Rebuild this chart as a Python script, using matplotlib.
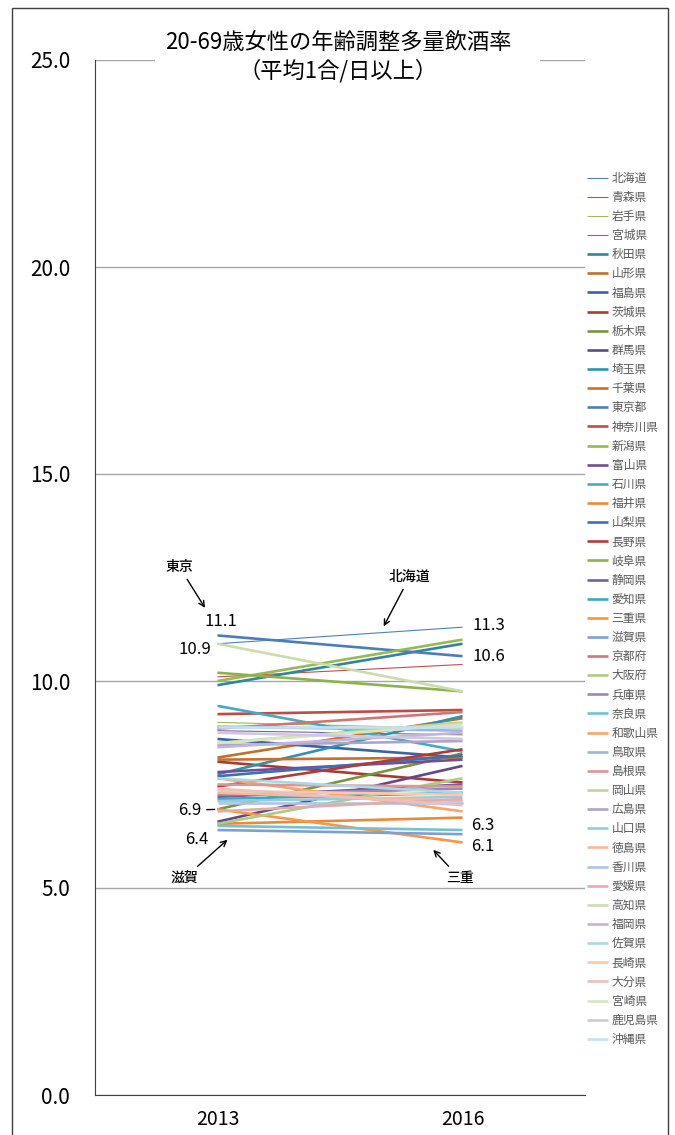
import matplotlib
matplotlib.use("Agg")
import matplotlib.pyplot as plt
from matplotlib.patches import Rectangle

plt.rcParams["font.family"] = ["Noto Sans CJK JP", "DejaVu Sans"]

# --- data ---
years = ["2013", "2016"]

prefs = [
    "北海道", "青森県", "岩手県", "宮城県", "秋田県", "山形県",
    "福島県", "茨城県", "栃木県", "群馬県", "埼玉県", "千葉県",
    "東京都", "神奈川県", "新潟県", "富山県", "石川県", "福井県",
    "山梨県", "長野県", "岐阜県", "静岡県", "愛知県", "三重県",
    "滋賀県", "京都府", "大阪府", "兵庫県", "奈良県", "和歌山県",
    "鳥取県", "島根県", "岡山県", "広島県", "山口県", "徳島県",
    "香川県", "愛媛県", "高知県", "福岡県", "佐賀県", "長崎県",
    "熊本県", "大分県", "宮崎県", "鹿児島県", "沖縄県",
]

# 熊本県 has no value (not in the chart's legend either)
v2013 = [
    10.9, 10.1, 9.0, 8.8, 9.9, 8.15,
    8.6, 8.05, 6.9, 6.6, 7.75, 8.1,
    11.1, 9.2, 10.0, 7.8, 9.4, 6.55,
    7.7, 7.45, 10.2, 7.2, 7.15, 6.9,
    6.4, 8.85, 6.55, 7.25, 6.5, 7.65,
    8.9, 7.5, 8.5, 8.45, 7.1, 7.3,
    7.05, 6.85, 10.9, 8.4, 7.65, 7.35,
    None, 7.4, 8.5, 8.75, 8.9,
]

v2016 = [
    11.3, 10.4, 8.85, 8.7, 10.9, 9.1,
    8.15, 7.55, 8.25, 7.95, 9.15, 8.15,
    10.6, 9.3, 11.0, 8.1, 8.3, 6.7,
    8.2, 8.35, 9.75, 7.5, 7.3, 6.1,
    6.3, 9.25, 7.65, 7.4, 6.4, 6.85,
    8.8, 7.45, 9.0, 8.55, 7.2, 7.1,
    7.05, 7.15, 9.75, 8.75, 7.3, 7.25,
    None, 7.0, 8.95, 8.6, 8.9,
]

colors = [
    "#4F81BD", "#C0504D", "#9BBB59", "#8064A2", "#31859C", "#C0702F",
    "#3B64A0", "#A83A37", "#77963C", "#5F4A85", "#2E94AE", "#C8702A",
    "#4A7EBB", "#BE4B48", "#98B954", "#6E4E9A", "#46AAC5", "#E88A3C",
    "#3F6FB0", "#B03C3A", "#8DB14B", "#7A5CA0", "#3FA6C2", "#F79646",
    "#7EA0D0", "#D07775", "#AFCB80", "#9C87BC", "#74C0D5", "#F9A56A",
    "#9CB5DB", "#DA9795", "#BFD49A", "#B0A2CB", "#93CDDD", "#FAB994",
    "#B0C4E3", "#E3ACAA", "#CCDCAE", "#C0B6D6", "#ACD8E5", "#FBC9A8",
    "#B9CDE5", "#E8C0BF", "#D8E4C2", "#CFC8E0", "#C2E2EC",
]

yticks = [0, 5, 10, 15, 20, 25]

fig = plt.figure(figsize=(6.75, 11.35), dpi=100)
ax = fig.add_axes([95 / 675, 1 - 1095 / 1135, 490 / 675, 1035 / 1135])

x = [0, 1]
for i, name in enumerate(prefs):
    if v2013[i] is None:
        continue
    lw = 0.8 if i < 4 else 1.9
    ax.plot(x, [v2013[i], v2016[i]], color=colors[i], lw=lw, label=name,
            solid_capstyle="butt")

ax.set_xlim(-0.5, 1.5)
ax.set_ylim(0, 25)
ax.set_xticks(x)
ax.set_xticklabels(years, fontsize=14)
ax.set_yticks(yticks)
ax.set_yticklabels([f"{t:.1f}" for t in yticks], fontsize=15)
ax.tick_params(length=0, pad=18)
ax.tick_params(axis="x", pad=10)
ax.yaxis.grid(True, color="#A6A6A6", lw=1)
ax.set_axisbelow(True)
for s in ["top", "right"]:
    ax.spines[s].set_visible(False)
ax.spines["left"].set_color("#404040")
ax.spines["bottom"].set_color("#404040")

# annotations
arrow = dict(arrowstyle="->", color="black", lw=1)
note = dict(fontsize=10, ha="center", va="center", fontweight="medium")
ax.annotate("東京", xy=(-0.045, 11.71), xytext=(-0.155, 12.75),
            arrowprops=arrow, **note)
ax.annotate("北海道", xy=(0.673, 11.26), xytext=(0.784, 12.51),
            arrowprops=arrow, **note)
ax.annotate("滋賀", xy=(0.049, 6.21), xytext=(-0.135, 5.24),
            arrowprops=arrow, **note)
ax.annotate("三重", xy=(0.873, 5.97), xytext=(0.988, 5.24),
            arrowprops=arrow, **note)

num = dict(fontsize=12, ha="center", va="center")
ax.text(0.016, 11.43, "11.1", **num)
ax.text(-0.094, 10.75, "10.9", **num)
ax.text(1.106, 11.33, "11.3", **num)
ax.text(1.106, 10.58, "10.6", **num)
ax.annotate("6.9", xy=(0, 6.9), xytext=(-0.114, 6.88),
            arrowprops=dict(arrowstyle="-", color="black", lw=1), **num)
ax.text(-0.086, 6.16, "6.4", **num)
ax.text(1.082, 6.5, "6.3", **num)
ax.text(1.082, 6.01, "6.1", **num)

# title block with white backing over the top gridline
fig.patches.append(Rectangle((155 / 675, 1 - 75 / 1135), 385 / 675, 30 / 1135,
                             transform=fig.transFigure, facecolor="white",
                             edgecolor="none", zorder=5))
fig.text(338 / 675, 1 - 42 / 1135, "20-69歳女性の年齢調整多量飲酒率",
         fontsize=16, ha="center", va="center", zorder=6)
fig.text(338 / 675, 1 - 71 / 1135, "（平均1合/日以上）",
         fontsize=16, ha="center", va="center", zorder=6)

# outer frame
fig.patches.append(Rectangle((12 / 675, -0.01), 656 / 675, 1 - 8 / 1135 + 0.01,
                             transform=fig.transFigure, facecolor="none",
                             edgecolor="#404040", lw=1, zorder=0))

leg = fig.legend(loc="upper left", bbox_to_anchor=(582 / 675, 1 - 167 / 1135),
                 frameon=False, fontsize=8.5, handlelength=1.8,
                 handletextpad=0.3, labelspacing=0.52, borderaxespad=0)
for t in leg.get_texts():
    t.set_color("#595959")

fig.savefig("out.png", dpi=100)
